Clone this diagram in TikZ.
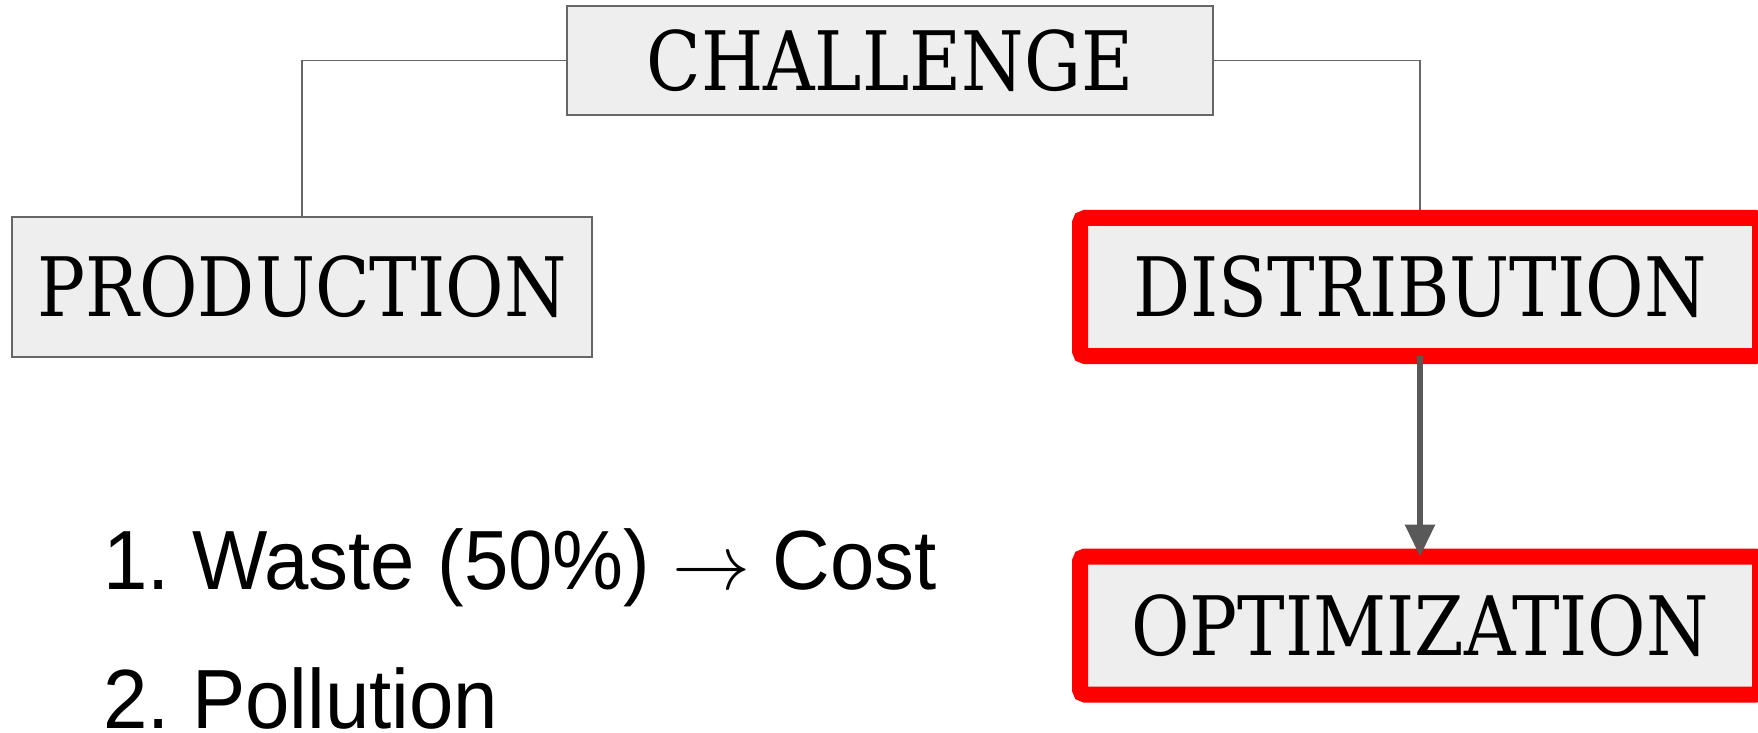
\documentclass[tikz,border=0pt]{standalone}
\usepackage{graphicx}
\usepackage{fontspec}
\setmainfont{DejaVu Serif}[FakeStretch=0.87]
\newfontfamily\listfont{Liberation Sans}[FakeStretch=0.95]
\usepackage{tikz}
\usetikzlibrary{arrows.meta}
\definecolor{boxgray}{HTML}{EEEEEE}
\definecolor{linegray}{HTML}{666666}
\definecolor{arrowgray}{HTML}{595959}
\definecolor{alertred}{HTML}{FF0000}
\frenchspacing

\begin{document}
\begin{tikzpicture}[x=1pt, y=1pt,
        box/.style={rectangle, draw=linegray, line width=0.7pt, fill=boxgray, inner sep=0pt,
            font=\fontsize{41}{49}\selectfont},
        redbox/.style={box, draw=alertred, line width=8pt, rounded corners=2.5pt, outer sep=0pt,
            minimum width=340pt, minimum height=69pt},
        link/.style={draw=linegray, line width=0.75pt},
        listline/.style={anchor=base west, inner sep=0pt, font=\listfont\fontsize{42}{50}\selectfont}]
            \useasboundingbox (0, 0) rectangle (879, -366.5);

            \node[box, minimum width=323pt, minimum height=54.5pt] (challenge) at (445, -30.25) {CHALLENGE};
            \node[box, minimum width=290pt, minimum height=70pt] (production) at (151, -143.5) {PRODUCTION};
            \node[redbox] (distribution) at (710, -143.5) {DISTRIBUTION};
            \node[redbox] (optimization) at (710, -312.75) {OPTIMIZATION};

            \draw[link] (challenge.west) -| (production.north);
            \draw[link] (challenge.east) -| ([yshift=4pt]distribution.north);
            \draw[arrowgray, line width=3pt, -{Triangle[width=14.5pt, length=16pt]}]
                (distribution.south) -- (optimization.north);

            \node[listline] (waste) at (51.5, -294.5)
                {1. Waste (50\%) {\normalsize\scalebox{3.9}{$\rightarrow$}} Cost};
            \node[listline] (pollution) at (51.5, -364) {2. Pollution};
        
        \end{tikzpicture}
\end{document}
